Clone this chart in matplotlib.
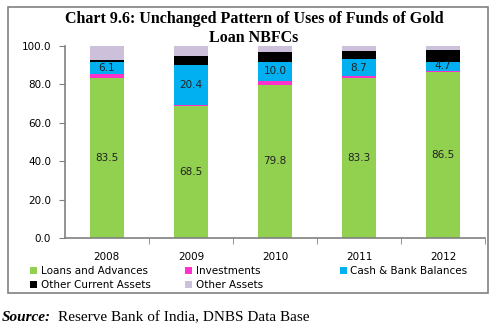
import matplotlib.pyplot as plt
import numpy as np
from matplotlib.patches import Rectangle

years = ['2008', '2009', '2010', '2011', '2012']
loans = [83.5, 68.5, 79.8, 83.3, 86.5]
investments = [1.9, 1.0, 2.0, 1.0, 0.6]
cash_bank = [6.1, 20.4, 10.0, 8.7, 4.7]
other_current = [1.0, 5.0, 4.9, 4.5, 6.1]
other_assets = [7.5, 5.1, 3.3, 2.5, 2.1]

series = [
    ('Loans and Advances', loans, '#92D050'),
    ('Investments', investments, '#FF33CC'),
    ('Cash & Bank Balances', cash_bank, '#00B0F0'),
    ('Other Current Assets', other_current, '#000000'),
    ('Other Assets', other_assets, '#CCC0DA'),
]

fig = plt.figure(figsize=(4.95, 3.31), dpi=100)
ax = fig.add_axes([0.131, 0.281, 0.849, 0.58])

x = np.arange(len(years))
bottom = np.zeros(len(years))
handles = {}
for name, vals, col in series:
    vals = np.array(vals)
    bars = ax.bar(x, vals, 0.4, bottom=bottom, color=col, label=name, zorder=2)
    handles[name] = bars
    if name in ('Loans and Advances', 'Cash & Bank Balances'):
        for xi, b, v in zip(x, bottom, vals):
            ax.text(xi, b + v / 2, f'{v:.1f}', ha='center', va='center',
                    fontsize=7.5, color='#222222', zorder=3)
    bottom += vals

ax.set_xlim(-0.5, 4.5)
ax.set_ylim(0, 100)
ax.set_yticks(np.arange(0, 101, 20))
ax.set_yticklabels([f'{v:.1f}' for v in np.arange(0, 101, 20)], fontsize=7.5)
ax.set_xticks(x)
ax.set_xticklabels(years, fontsize=7.5)
ax.set_xticks(np.arange(0.5, 5, 1), minor=True)
ax.tick_params(axis='x', which='major', length=0, pad=10)
ax.tick_params(axis='x', which='minor', length=4, color='#808080', direction='out')
ax.tick_params(axis='y', length=4, color='#808080', direction='out', pad=6)
for s in ('top', 'right'):
    ax.spines[s].set_visible(False)
for s in ('left', 'bottom'):
    ax.spines[s].set_color('#808080')
    ax.spines[s].set_linewidth(1.2)

fig.text(0.513, 0.967, 'Chart 9.6: Unchanged Pattern of Uses of Funds of Gold\nLoan NBFCs',
         ha='center', va='top', fontsize=11.5, fontweight='bold',
         family='Liberation Serif', linespacing=1.25)

cols = [(['Loans and Advances', 'Other Current Assets'], 0.061),
        (['Investments', 'Other Assets'], 0.374),
        (['Cash & Bank Balances'], 0.687)]
for names, xpos in cols:
    fig.legend([handles[n] for n in names], names, loc='upper left',
               bbox_to_anchor=(xpos, 0.197), frameon=False, fontsize=7.5,
               handlelength=0.7, handleheight=0.7, handletextpad=0.3,
               labelspacing=0.45, borderpad=0, borderaxespad=0)

fig.patches.append(Rectangle((0.016, 0.115), 0.97, 0.865, transform=fig.transFigure,
                             fill=False, edgecolor='#808080', linewidth=1.2))

fig.text(0.004, 0.02, 'Source:', fontsize=11, family='Liberation Serif',
         style='italic', fontweight='bold', va='bottom')
fig.text(0.117, 0.02, 'Reserve Bank of India, DNBS Data Base', fontsize=11,
         family='Liberation Serif', va='bottom')

fig.savefig('out.png', dpi=100)
